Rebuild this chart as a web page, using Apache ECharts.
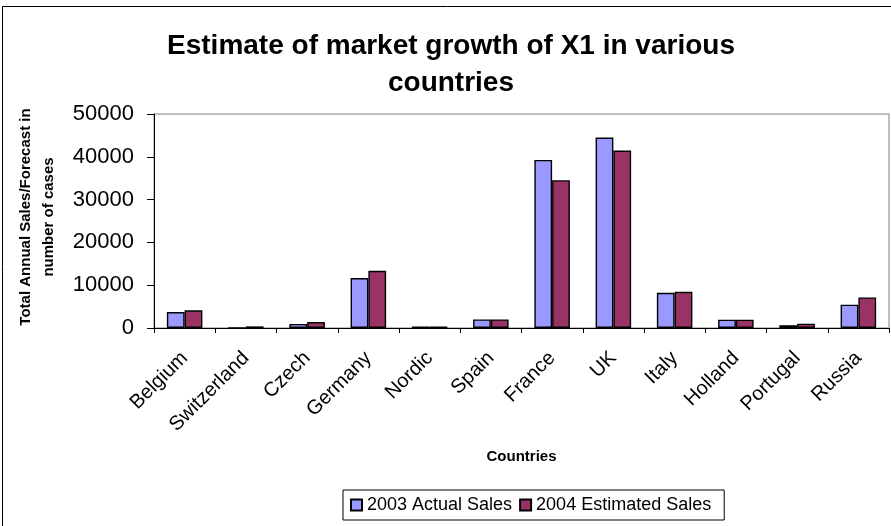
<!DOCTYPE html>
<html>
<head>
<meta charset="utf-8">
<script src="https://cdn.jsdelivr.net/npm/echarts@6/dist/echarts.min.js"></script>
<style>
  html, body { margin: 0; padding: 0; background: #fff; }
  #chart { width: 891px; height: 526px; }
</style>
</head>
<body>
<div id="chart"></div>
<script>
// Market growth of X1, by country: actual 2003 vs estimated 2004
const countries = ['Belgium', 'Switzerland', 'Czech', 'Germany', 'Nordic', 'Spain',
                   'France', 'UK', 'Italy', 'Holland', 'Portugal', 'Russia'];
const actual2003 = [3730, 0, 950, 11670, 350, 2000, 39270, 44490, 8240, 1950, 650, 5440];
const estimated2004 = [4120, 380, 1400, 13370, 350, 2000, 34530, 41460, 8470, 1950, 1000, 7150];
const yTicks = [0, 10000, 20000, 30000, 40000, 50000];
const seriesNames = ['2003 Actual Sales', '2004 Estimated Sales'];

const FONT = '"Liberation Sans", Arial, Helvetica, sans-serif';

const chart = echarts.init(document.getElementById('chart'), null, { renderer: 'canvas' });

chart.setOption({
  backgroundColor: '#ffffff',
  animation: false,
  textStyle: { fontFamily: FONT, color: '#000' },
  title: {
    text: 'Estimate of market growth of X1 in various\ncountries',
    left: 446,
    top: 23,
    textAlign: 'center',
    textStyle: { fontFamily: FONT, fontSize: 28, fontWeight: 'bold', color: '#000', lineHeight: 37 }
  },
  grid: {
    left: 154, right: 2, top: 114, bottom: 198,
    show: true, borderColor: '#808080', borderWidth: 1, backgroundColor: '#fff'
  },
  legend: {
    data: seriesNames,
    left: 343, top: 490,
    padding: [6, 13, 6, 7],
    itemGap: 7,
    itemWidth: 11, itemHeight: 11,
    icon: 'rect',
    borderColor: '#000', borderWidth: 1,
    textStyle: { fontFamily: FONT, fontSize: 18, color: '#000' }
  },
  xAxis: {
    type: 'category',
    data: countries,
    name: 'Countries',
    nameLocation: 'middle',
    nameGap: 121,
    nameTextStyle: { fontFamily: FONT, fontSize: 15, fontWeight: 'bold', color: '#000' },
    axisLine: { lineStyle: { color: '#000', width: 1 } },
    axisTick: { show: true, length: 5, interval: 0, lineStyle: { color: '#000' } },
    axisLabel: { interval: 0, rotate: 45, margin: 27, fontFamily: FONT, fontSize: 20, color: '#000' },
    splitLine: { show: false }
  },
  yAxis: {
    type: 'value',
    min: yTicks[0], max: yTicks[yTicks.length - 1], interval: yTicks[1] - yTicks[0],
    axisLine: { show: true, lineStyle: { color: '#000', width: 1 } },
    axisTick: { show: true, length: 7, inside: false, lineStyle: { color: '#000' } },
    axisLabel: { margin: 20, fontFamily: FONT, fontSize: 22, color: '#000', formatter: v => String(v) },
    splitLine: { show: false }
  },
  graphic: [
    {
      type: 'rect', silent: true, z: -10,
      shape: { x: 2.5, y: 6.5, width: 1000, height: 1000 },
      style: { fill: 'none', stroke: '#000', lineWidth: 1 }
    },
    {
      type: 'text', silent: true,
      x: 37, y: 217, rotation: Math.PI / 2,
      style: {
        text: 'Total Annual Sales/Forecast in\nnumber of cases',
        font: 'bold 15px ' + FONT,
        fill: '#000',
        textAlign: 'center', textVerticalAlign: 'middle',
        lineHeight: 23
      }
    }
  ],
  series: [
    {
      name: seriesNames[0], type: 'bar', data: actual2003,
      barGap: '0%', barCategoryGap: '42%',
      itemStyle: { color: '#9999FF', borderColor: '#000', borderWidth: 1.4 }
    },
    {
      name: seriesNames[1], type: 'bar', data: estimated2004,
      barGap: '0%', barCategoryGap: '42%',
      itemStyle: { color: '#993366', borderColor: '#000', borderWidth: 1.4 }
    }
  ]
});
</script>
</body>
</html>
